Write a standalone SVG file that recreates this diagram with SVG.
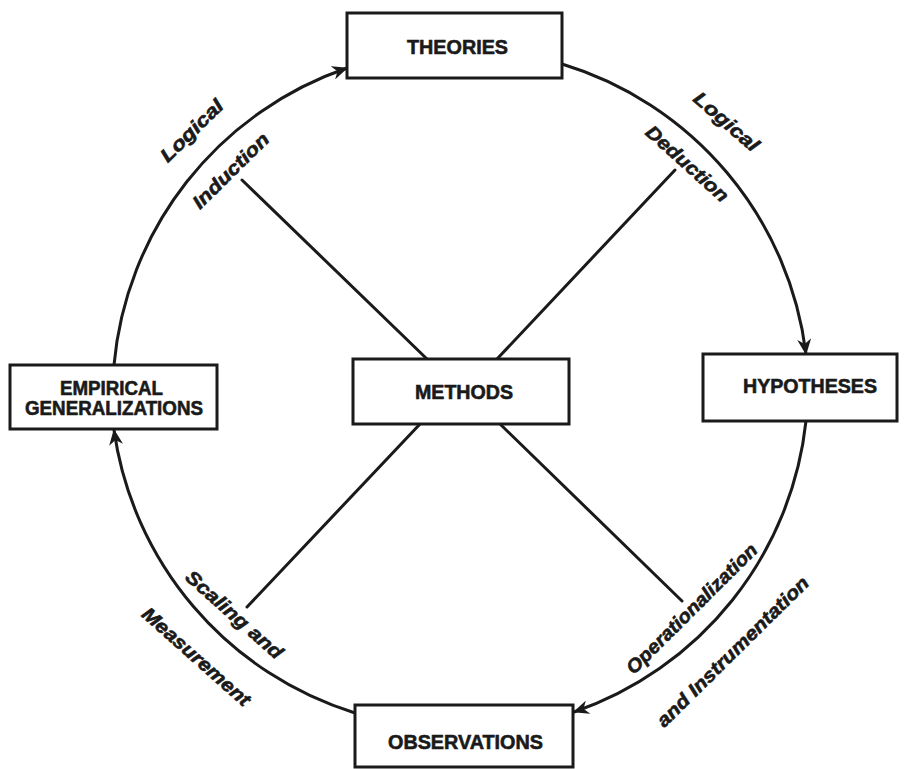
<svg xmlns="http://www.w3.org/2000/svg" width="907" height="769" viewBox="0 0 907 769">
<style>
.box{fill:#fff;stroke:#1a1a1a;stroke-width:3}
.bt{font-family:"Liberation Sans",Arial,sans-serif;font-weight:bold;font-size:20px;fill:#1a1a1a;stroke:#1a1a1a;stroke-width:0.6;text-anchor:middle}
.lab{font-family:"Liberation Sans",Arial,sans-serif;font-weight:bold;font-style:italic;font-size:19px;fill:#1a1a1a;stroke:#1a1a1a;stroke-width:0.6;text-anchor:middle}
.arc{fill:none;stroke:#1a1a1a;stroke-width:3;stroke-linecap:round}
.spoke{stroke:#1a1a1a;stroke-width:3;stroke-linecap:round}
</style>
<defs>
<marker id="ah" viewBox="0 0 16 14" refX="15" refY="7" markerWidth="16" markerHeight="14" orient="auto" markerUnits="userSpaceOnUse">
<path d="M0,0 L16,7 L0,14 L5,7 z" fill="#1a1a1a"/>
</marker>
</defs>
<rect width="907" height="769" fill="#fff"/>
<g id="connectors">
<path class="arc" d="M114,365 A347,347 0 0 1 347,68" marker-end="url(#ah)"/>
<path class="arc" d="M562,64 A347,347 0 0 1 806,354" marker-end="url(#ah)"/>
<path class="arc" d="M806,421 A347,347 0 0 1 574,712" marker-end="url(#ah)"/>
<path class="arc" d="M355,713 A347,347 0 0 1 114,430" marker-end="url(#ah)"/>
<line class="spoke" x1="242" y1="180" x2="427" y2="359"/>
<line class="spoke" x1="675" y1="170" x2="497" y2="359"/>
<line class="spoke" x1="247" y1="607" x2="420" y2="424"/>
<line class="spoke" x1="682" y1="601" x2="500" y2="424"/>
</g>
<g id="labels">
<text class="lab" transform="translate(192,131) rotate(-44.5)" y="6" textLength="80" lengthAdjust="spacingAndGlyphs">Logical</text>
<text class="lab" transform="translate(231,171) rotate(-44.6)" y="6" textLength="99" lengthAdjust="spacingAndGlyphs">Induction</text>
<text class="lab" transform="translate(726,122) rotate(41)" y="6" textLength="80" lengthAdjust="spacingAndGlyphs">Logical</text>
<text class="lab" transform="translate(687,164) rotate(42)" y="6" textLength="104" lengthAdjust="spacingAndGlyphs">Deduction</text>
<text class="lab" transform="translate(234,615) rotate(41.5)" y="6" textLength="123" lengthAdjust="spacingAndGlyphs">Scaling and</text>
<text class="lab" transform="translate(196,657) rotate(41.6)" y="6" textLength="138" lengthAdjust="spacingAndGlyphs">Measurement</text>
<text class="lab" transform="translate(692,609) rotate(-44.8)" y="6" textLength="176" lengthAdjust="spacingAndGlyphs">Operationalization</text>
<text class="lab" transform="translate(733,652) rotate(-44.6)" y="6" textLength="205" lengthAdjust="spacingAndGlyphs">and Instrumentation</text>
</g>
<g id="theories">
<rect class="box" x="347" y="13" width="215" height="65"/>
<text class="bt" x="457.5" y="54" textLength="101" lengthAdjust="spacingAndGlyphs">THEORIES</text>
</g>
<g id="empirical">
<rect class="box" x="10" y="365" width="207" height="64"/>
<text class="bt" x="111.5" y="395" textLength="103" lengthAdjust="spacingAndGlyphs">EMPIRICAL</text>
<text class="bt" x="114" y="415" textLength="178" lengthAdjust="spacingAndGlyphs">GENERALIZATIONS</text>
</g>
<g id="methods">
<rect class="box" x="353" y="359" width="216" height="65"/>
<text class="bt" x="464" y="399" textLength="98" lengthAdjust="spacingAndGlyphs">METHODS</text>
</g>
<g id="hypotheses">
<rect class="box" x="703" y="354" width="194" height="67"/>
<text class="bt" x="810" y="393" textLength="134" lengthAdjust="spacingAndGlyphs">HYPOTHESES</text>
</g>
<g id="observations">
<rect class="box" x="355" y="705" width="218" height="62"/>
<text class="bt" x="465.5" y="749" textLength="155" lengthAdjust="spacingAndGlyphs">OBSERVATIONS</text>
</g>
</svg>
